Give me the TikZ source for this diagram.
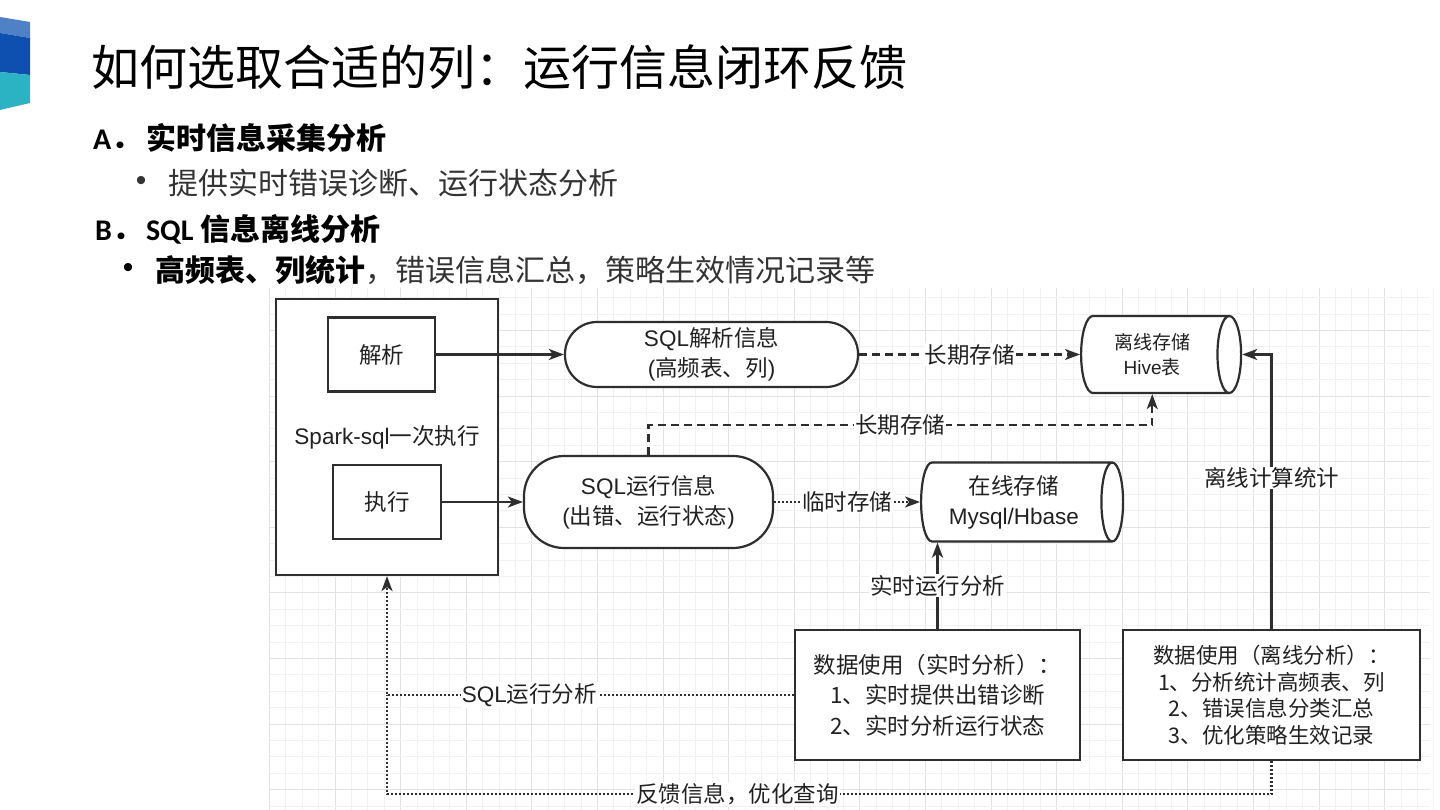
\documentclass[tikz,border=0pt]{standalone}
\usepackage{fontspec}
\setmainfont{Noto Sans CJK SC}
\newfontfamily\latinsf{Liberation Sans}
\newfontfamily\calfont{Carlito}
\usepackage{tikz}
\usetikzlibrary{shapes.geometric,arrows.meta,positioning,calc}
\definecolor{lineclr}{HTML}{2E2E2E}
\definecolor{gridminor}{HTML}{F1F1F1}
\definecolor{gridmajor}{HTML}{E2E2E2}
\definecolor{logoA}{HTML}{4F81C7}
\definecolor{logoB}{HTML}{0D50B0}
\definecolor{logoC}{HTML}{2BB3C4}
\definecolor{bodytxt}{HTML}{333333}
\newcommand{\dfont}{\fontsize{22.5}{30}\selectfont}

\begin{document}
\begin{tikzpicture}[x=1pt, y=-1pt,
    box/.style={draw=lineclr, line width=2.2pt, fill=white, text=black!87, font=\dfont, align=center},
    pill/.style={box, rounded corners=#1},
    store/.style={box, cylinder, aspect=#1},
    link/.style={draw=lineclr, line width=2.2pt, -{Stealth[length=15pt, width=11pt, inset=4pt]}},
    dashlink/.style={link, dash pattern=on 8pt off 5pt},
    dotlink/.style={link, dash pattern=on 2pt off 2pt},
    tag/.style={fill=white, inner sep=1pt, text=black!87, font=\dfont},
    txt/.style={anchor=west, inner sep=0pt}]
  \useasboundingbox (0,0) rectangle (1440,810);
  \fill[white] (0,0) rectangle (1440,810);

  % logo
  \fill[logoA] (0,17) -- (30,22) -- (30,38) -- (0,33) -- cycle;
  \fill[logoB] (0,33) -- (30,38) -- (30,75) -- (0,72) -- cycle;
  \fill[logoC] (0,72) -- (30,75) -- (30,103) -- (0,110) -- cycle;

  % heading and bullets
  \node[txt, font=\fontsize{48}{56}\selectfont] (title) at (91,67) {如何选取合适的列：运行信息闭环反馈};
  \node[txt, font=\bfseries\fontsize{30}{34}\selectfont] (secA) at (93,138) {{\calfont A}．\hspace{5pt}实时信息采集分析};
  \node[inner sep=0pt, text=bodytxt, font=\latinsf\fontsize{30}{34}\selectfont] (dotA) at (141,183) {•};
  \node[txt, text=bodytxt, font=\fontsize{30}{34}\selectfont] (itemA) at (168,183) {提供实时错误诊断、运行状态分析};
  \node[txt, font=\bfseries\fontsize{30}{34}\selectfont] (secB) at (95,229) {{\calfont B}．\hspace{4pt}{\calfont SQL} 信息离线分析};
  \node[inner sep=0pt, font=\latinsf\fontsize{30}{34}\selectfont] (dotB) at (128,270) {•};
  \node[txt, text=bodytxt, font=\fontsize{30}{34}\selectfont] (itemB) at (155,270) {\textcolor{black}{\textbf{高频表、列统计}}，错误信息汇总，策略生效情况记录等};

  % grid
  \foreach \i in {0,...,71}{
    \pgfmathtruncatemacro\m{mod(\i,4)}
    \ifnum\m=0 \def\gc{gridmajor}\else\def\gc{gridminor}\fi
    \draw[\gc, line width=0.8pt] (269.3+16.4*\i,288) -- (269.3+16.4*\i,810);
  }
  \foreach \j in {0,...,31}{
    \pgfmathtruncatemacro\m{mod(\j,4)}
    \ifnum\m=2 \def\gc{gridmajor}\else\def\gc{gridminor}\fi
    \draw[\gc, line width=0.8pt] (270,297.5+16.4*\j) -- (1430,297.5+16.4*\j);
  }

  % nodes
  \node[box, minimum width=222, minimum height=276] (spark) at (387,437) {{\latinsf Spark-sql}一次执行};
  \node[box, minimum width=107, minimum height=74] (parse) at (381.5,354.5) {解析};
  \node[box, minimum width=108, minimum height=74] (exec) at (387,502) {执行};
  \node[pill=32pt, minimum width=293, minimum height=65] (sqlparse) at (711.5,354.5)
    {{\latinsf SQL}解析信息\\{\latinsf(}高频表、列{\latinsf)}};
  \node[pill=40pt, minimum width=249, minimum height=92] (sqlrun) at (648.5,502)
    {{\latinsf SQL}运行信息\\{\latinsf(}出错、运行状态{\latinsf)}};
  \node[store=0.48, minimum height=160, minimum width=77, anchor=west, font=\fontsize{19}{25}\selectfont] (hive) at (1080,354.5)
    {离线存储\\{\latinsf Hive}表};
  \node[store=0.36, minimum height=202, minimum width=79, anchor=west] (online) at (920,502)
    {在线存储\\{\latinsf Mysql/Hbase}};
  \node[box, minimum width=285, minimum height=130, font=\fontsize{22.5}{30.5}\selectfont] (rtbox) at (937.5,695)
    {数据使用（实时分析）：\\1、实时提供出错诊断\\2、实时分析运行状态};
  \node[box, minimum width=297, minimum height=130, font=\fontsize{21.5}{26.5}\selectfont] (offbox) at (1271.5,695)
    {数据使用（离线分析）：\\1、分析统计高频表、列\\2、错误信息分类汇总\\3、优化策略生效记录};
  \coordinate (join) at (spark.south |- rtbox.west);

  % connectors
  \draw[link] (parse.east) -- (sqlparse.west);
  \draw[link] (exec.east) -- (sqlrun.west);
  \draw[dashlink] (sqlparse.east) -- node[tag]{长期存储} (hive.west);
  \draw[dashlink] (sqlrun.north) -- ++(0,-30) -| node[tag, pos=0.25]{长期存储} (hive.south);
  \draw[dotlink] (sqlrun.east) -- node[tag]{临时存储} (online.west);
  \draw[link] (rtbox.north) -- node[tag]{实时运行分析} (rtbox.north |- online.south);
  \draw[link] (offbox.north) |- node[tag, pos=0.275]{离线计算统计} (hive.east);
  \draw[dotlink] (rtbox.west) -| node[tag, pos=0.325]{{\latinsf SQL}运行分析} (spark.south);
  \draw[dotlink, -] (offbox.south) -- ++(0,33) -| node[tag, pos=0.302]{反馈信息，优化查询} (join);
\end{tikzpicture}
\end{document}
